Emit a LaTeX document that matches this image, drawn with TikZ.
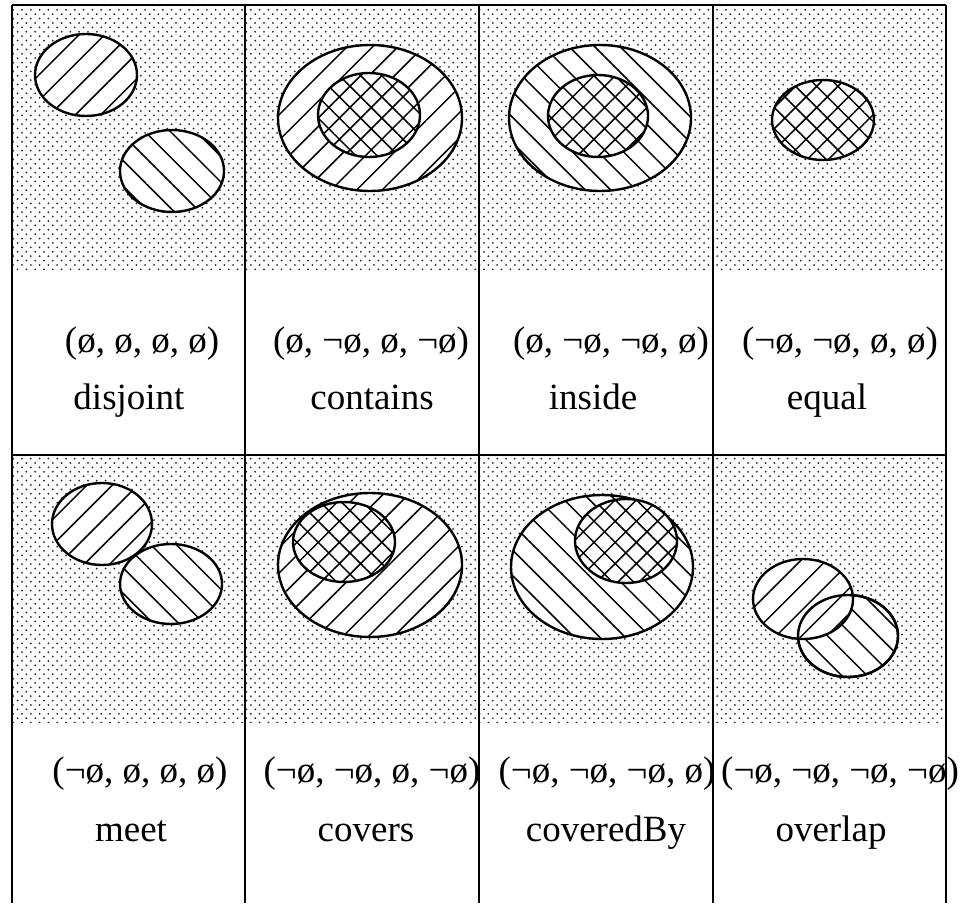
\documentclass[tikz,border=0pt]{standalone}
\usepackage{fontspec}
\setmainfont{Liberation Serif}
\usetikzlibrary{patterns.meta}

\begin{document}
\begin{tikzpicture}[x = 0.5pt, y = -0.5pt,
    stipple/.style = {pattern = {Dots[distance = 4.4pt, radius = 0.5pt]}, pattern color = black!85},
    stipplb/.style = {pattern = {Dots[distance = 4.4pt, radius = 0.5pt, xshift = 2.2pt, yshift = 2.2pt]}, pattern color = black!85},
    nelines/.style = {preaction = {fill = white}, pattern = {Lines[angle = 45, distance = 9pt, line width = 0.75pt]}},
    nwlines/.style = {preaction = {fill = white}, pattern = {Lines[angle = -45, distance = 9pt, line width = 0.75pt]}},
    xlines/.style = {preaction = {fill = white}, pattern = {Hatch[angle = 45, distance = 7.5pt, line width = 0.75pt]}},
    region/.style = {line width = 1.2pt},
    lbl/.style = {draw = none, fill = none, inner sep = 0pt, anchor = base, font = \fontsize{18.5}{22}\selectfont}]

\useasboundingbox (0,0) rectangle (961,903);

% exteriors
\fill[stipple] (12,5) rectangle (946,270)
               (12,455) rectangle (946,723);
\fill[stipplb] (12,5) rectangle (946,270)
               (12,455) rectangle (946,723);

% disjoint
\draw[region, nelines] (86,75) ellipse (51 and 41);
\draw[region, nwlines] (172,171) ellipse (52 and 41);
% contains
\draw[region, nelines] (370,118) ellipse (92 and 73);
\draw[region, xlines] (369,115) ellipse (51 and 42);
% inside
\draw[region, nwlines] (600,118) ellipse (91 and 73);
\draw[region, xlines] (598,116) ellipse (50 and 41);
% equal
\draw[region, xlines] (823,120) ellipse (51 and 40);

% meet
\draw[region, nelines] (102,524) ellipse (50 and 41);
\draw[region, nwlines] (171,584) ellipse (51 and 40);
% covers
\draw[region, nelines] (370,565) ellipse (92 and 72);
\draw[region, xlines] (344,542) ellipse (51 and 40);
% coveredBy
\draw[region, nwlines] (602,567) ellipse (91 and 72);
\draw[region, xlines] (626,541) ellipse (51 and 42);
% overlap
\draw[region, nwlines] (848,636) ellipse (50 and 41);
\draw[region, nelines] (803,599) ellipse (50 and 40);
\draw[region] (848,636) ellipse (50 and 41);

% table lines
\draw[line width = 1pt] (12,5) -- (946,5)
      (12,455) -- (946,455)
      (12,5) -- (12,903)
      (245,5) -- (245,903)
      (479,5) -- (479,903)
      (713,5) -- (713,903)
      (946,5) -- (946,903);

      \node[lbl] (disjT) at (142,352) {(ø, ø, ø, ø)};
      \node[lbl] (disjN) at (129,409) {disjoint};
      \node[lbl] (contT) at (371,352) {(ø, ¬ø, ø, ¬ø)};
      \node[lbl] (contN) at (372,409) {contains};
      \node[lbl] (insdT) at (611,352) {(ø, ¬ø, ¬ø, ø)};
      \node[lbl] (insdN) at (593,409) {inside};
      \node[lbl] (equlT) at (840,352) {(¬ø, ¬ø, ø, ø)};
      \node[lbl] (equlN) at (827,409) {equal};
      \node[lbl] (meetT) at (140,782) {(¬ø, ø, ø, ø)};
      \node[lbl] (meetN) at (131,841) {meet};
      \node[lbl] (covrT) at (372,782) {(¬ø, ¬ø, ø, ¬ø)};
      \node[lbl] (covrN) at (366,841) {covers};
      \node[lbl] (cvbyT) at (607,782) {(¬ø, ¬ø, ¬ø, ø)};
      \node[lbl] (cvbyN) at (606,841) {coveredBy};
      \node[lbl] (ovlpT) at (840,782) {(¬ø, ¬ø, ¬ø, ¬ø)};
      \node[lbl] (ovlpN) at (831,841) {overlap};
\end{tikzpicture}
\end{document}
